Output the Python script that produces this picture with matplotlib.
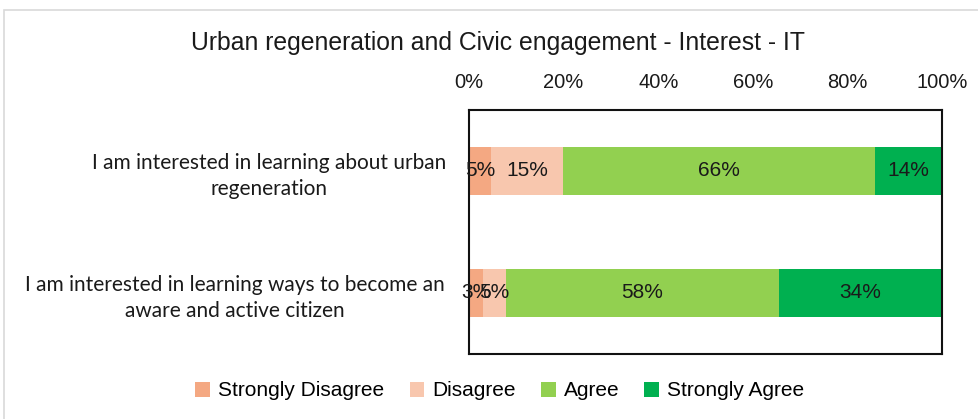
import numpy as np
import matplotlib.pyplot as plt
from matplotlib.patches import Rectangle

# categories (top to bottom)
questions = [
    'I am interested in learning about urban\nregeneration',
    'I am interested in learning ways to become an\naware and active citizen',
]
series = ['Strongly Disagree', 'Disagree', 'Agree', 'Strongly Agree']
colors = ['#f4a882', '#f8c7ae', '#92d050', '#00b050']

# share of answers in percent, one list per question
strongly_disagree = [4.6, 3.0]
disagree = [15.3, 4.8]
agree = [66.0, 57.8]
strongly_agree = [14.1, 34.4]

x_ticks = [0, 20, 40, 60, 80, 100]

arial = ['Liberation Sans', 'DejaVu Sans']
plain = ['Lato', 'DejaVu Sans']

fig = plt.figure(figsize=(9.79, 4.19), dpi=100)
ax = fig.add_axes([469 / 979, 1 - 354 / 419, 473 / 979, 244 / 419])

# outer chart border
fig.patches.append(Rectangle((4 / 979, -0.1), 1.2, (419 - 10) / 419 + 0.1,
                             transform=fig.transFigure, fill=False,
                             edgecolor='#d9d9d9', linewidth=1.2))

values = [strongly_disagree, disagree, agree, strongly_agree]
y = np.arange(len(questions))
left = np.zeros(len(questions))
for name, vals, col in zip(series, values, colors):
    vals = np.array(vals)
    ax.barh(y, vals, left=left, height=0.4, color=col, label=name)
    for yi, l, v in zip(y, left, vals):
        ax.text(l + v / 2, yi, f'{round(v):.0f}%', ha='center', va='center',
                fontsize=15, family=arial, color='#1a1a1a')
    left = left + vals

ax.set_xlim(0, 100)
ax.set_ylim(1.5, -0.5)
ax.xaxis.tick_top()
ax.set_xticks(x_ticks)
ax.set_xticklabels([f'{t}%' for t in x_ticks], family=arial, fontsize=14.5, color='#1a1a1a')
ax.tick_params(axis='x', length=0, pad=13)
ax.set_yticks(y)
ax.set_yticklabels(questions, family=plain, fontsize=15, ha='center', color='#1a1a1a',
                   multialignment='center', linespacing=1.35)
ax.tick_params(axis='y', length=0)
# centred labels: put each block's centre where the reference has it
for lab, shift in zip(ax.get_yticklabels(), [195, 229]):
    lab.set_x(-shift / 473)
for side in ['left', 'right', 'top', 'bottom']:
    ax.spines[side].set_color('#111111')
    ax.spines[side].set_linewidth(1.5)

fig.text(498 / 979, 1 - 43 / 419, 'Urban regeneration and Civic engagement - Interest - IT',
         ha='center', va='center', fontsize=17.8, family=arial, color='#1a1a1a')

fig.legend(loc='center', bbox_to_anchor=(500 / 979, 1 - 391 / 419), ncol=4,
           frameon=False, handlelength=0.7, handleheight=0.7, handletextpad=0.4,
           columnspacing=1.2, prop={'family': arial, 'size': 15})

fig.savefig('out.png', dpi=100)
